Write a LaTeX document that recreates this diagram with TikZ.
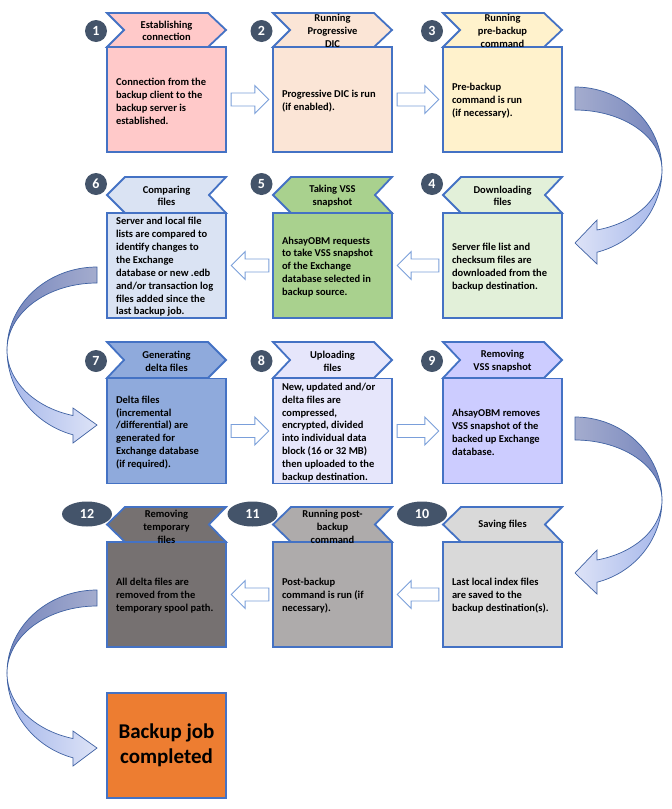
\documentclass[tikz,border=0pt]{standalone}
\usepackage{fontspec}
\setmainfont{Carlito}
\usetikzlibrary{calc,shapes.geometric}
\definecolor{bord}{HTML}{4472C4}
\definecolor{cA}{HTML}{FFC9C9}
\definecolor{cB}{HTML}{FBE5D6}
\definecolor{cC}{HTML}{FFF2CC}
\definecolor{cD}{HTML}{E2F0D9}
\definecolor{cE}{HTML}{A9D18E}
\definecolor{cF}{HTML}{DAE3F3}
\definecolor{cG}{HTML}{8FAADC}
\definecolor{cH}{HTML}{E6E6FB}
\definecolor{cI}{HTML}{CCCCFF}
\definecolor{cJ}{HTML}{D9D9D9}
\definecolor{cK}{HTML}{AEABAB}
\definecolor{cL}{HTML}{767171}
\definecolor{cfin}{HTML}{ED7D31}
\definecolor{numcol}{HTML}{44546A}
\definecolor{barline}{HTML}{7A9FDA}
\definecolor{curline}{HTML}{4062A3}
\definecolor{upLight}{HTML}{A4ACCE}
\definecolor{upDark}{HTML}{7686BD}
\definecolor{loDark}{HTML}{A6B7EA}
\definecolor{loLight}{HTML}{DDE3F7}
\newcommand\hdrR[4]{\filldraw[hdr,fill=#4] ({#1-59.5},#2) -- ({#1+41.5},#2) -- ({#1+59.5},{(#2+#3)/2}) -- ({#1+41.5},#3) -- ({#1-59.5},#3) -- ({#1-42.5},{(#2+#3)/2}) -- cycle;}
\newcommand\hdrL[4]{\filldraw[hdr,fill=#4] ({#1-59.5},{(#2+#3)/2}) -- ({#1-41.5},#2) -- ({#1+59.5},#2) -- ({#1+42.5},{(#2+#3)/2}) -- ({#1+59.5},#3) -- ({#1-41.5},#3) -- cycle;}
\newcommand\barR[2]{\filldraw[barrow] ($(#1.east)+(4,-6.5)$) -- ($(#2.west)+(-17,-6.5)$) -- ($(#2.west)+(-17,-14)$) -- ($(#2.west)+(-3,0)$) -- ($(#2.west)+(-17,14)$) -- ($(#2.west)+(-17,6.5)$) -- ($(#1.east)+(4,6.5)$) -- cycle;}
\newcommand\barL[2]{\filldraw[barrow] ($(#1.west)+(-3,-6.5)$) -- ($(#2.east)+(18,-6.5)$) -- ($(#2.east)+(18,-14)$) -- ($(#2.east)+(4,0)$) -- ($(#2.east)+(18,14)$) -- ($(#2.east)+(18,6.5)$) -- ($(#1.west)+(-3,6.5)$) -- cycle;}
\newcommand\rcurve[1]{%
\shadedraw[curarrow,left color=upLight,right color=upDark]
 plot[domain=90:0,samples=40] ({575+87*cos(\x)},{#1-83*sin(\x)})
 -- plot[domain=0:90,samples=40] ({575+87*cos(\x)},{#1-60*sin(\x)}) -- cycle;
\shadedraw[curarrow,left color=loLight,right color=loDark]
 plot[domain=0:75.4,samples=40] ({575+87*cos(\x)},{#1+85*sin(\x)})
 -- (597,{#1+94}) -- (575,{#1+73}) -- (597,{#1+50})
 -- plot[domain=75.4:0,samples=40] ({575+87*cos(\x)},{#1+62*sin(\x)}) -- cycle;}
\newcommand\lcurve[1]{%
\shadedraw[curarrow,left color=upDark,right color=upLight]
 plot[domain=90:0,samples=40] ({97-90*cos(\x)},{#1-83*sin(\x)})
 -- plot[domain=0:90,samples=40] ({97-90*cos(\x)},{#1-67*sin(\x)}) -- cycle;
\shadedraw[curarrow,left color=loDark,right color=loLight]
 plot[domain=0:74.5,samples=40] ({97-90*cos(\x)},{#1+88*sin(\x)})
 -- (73,{#1+93}) -- (97,{#1+75}) -- (73,{#1+58})
 -- plot[domain=74.5:0,samples=40] ({97-90*cos(\x)},{#1+68*sin(\x)}) -- cycle;}
\begin{document}
\begin{tikzpicture}[x=1pt,y=-1pt,
  hdr/.style={draw=bord,line width=1.8pt,line join=miter},
  body/.style={draw=bord,line width=1.8pt,rectangle,minimum width=119.5pt,minimum height=105pt,inner sep=0pt},
  btext/.style={anchor=west,align=left,inner sep=0pt,font=\fontsize{10.5}{12.9}\selectfont\bfseries},
  htext/.style={align=center,inner sep=0pt,font=\fontsize{10.5}{12.7}\selectfont\bfseries},
  numc/.style={circle,fill=numcol,text=white,minimum size=22pt,inner sep=0pt,font=\fontsize{14}{14}\selectfont\bfseries},
  nume/.style={ellipse,fill=numcol,text=white,minimum width=50pt,minimum height=25pt,inner sep=0pt,font=\fontsize{14}{14}\selectfont\bfseries},
  barrow/.style={draw=barline,fill=white,line width=0.9pt,line join=miter},
  curarrow/.style={draw=curline,line width=0.7pt,line join=miter}]
\useasboundingbox (0,0) rectangle (672,809);
\fill[white] (0,0) rectangle (672,809);
% curved arrows
\rcurve{170}
\lcurve{350}
\rcurve{500}
\lcurve{673}
% row 1
\hdrR{166.5}{13}{47}{cA}
\hdrR{332.5}{13}{47}{cB}
\hdrR{502.5}{13}{47}{cC}
\node[body,fill=cA] (b1) at (166.5,99.5) {};
\node[body,fill=cB] (b2) at (332.5,99.5) {};
\node[body,fill=cC] (b3) at (502.5,99.5) {};
\node[htext] (h1) at (166.5,31) {Establishing\\connection};
\node[htext] (h2) at (332.5,31) {Running\\Progressive\\DIC};
\node[htext] (h3) at (502.5,31) {Running\\pre-backup\\command};
\node[btext] (t1) at ($(b1.west)+(10,1.5)$) {Connection from the\\backup client to the\\backup server is\\established.};
\node[btext] (t2) at ($(b2.west)+(10,1.5)$) {Progressive DIC is run\\(if enabled).};
\node[btext] (t3) at ($(b3.west)+(10,1.5)$) {Pre-backup\\command is run\\(if necessary).};
\node[numc] (n1) at (96,31) {1};
\node[numc] (n2) at (261.5,31) {2};
\node[numc] (n3) at (432,31) {3};
\barR{b1}{b2}
\barR{b2}{b3}
% row 2
\hdrL{166.5}{177}{213}{cF}
\hdrL{332.5}{177}{213}{cE}
\hdrL{502.5}{177}{213}{cD}
\node[body,fill=cF] (b6) at (166.5,265.5) {};
\node[body,fill=cE] (b5) at (332.5,265.5) {};
\node[body,fill=cD] (b4) at (502.5,265.5) {};
\node[htext] (h6) at (166.5,196) {Comparing\\files};
\node[htext] (h5) at (332.5,196) {Taking VSS\\snapshot};
\node[htext] (h4) at (502.5,196) {Downloading\\files};
\node[btext] (t6) at ($(b6.west)+(10,1.5)$) {Server and local file\\lists are compared to\\identify changes to\\the Exchange\\database or new .edb\\and/or transaction log\\files added since the\\last backup job.};
\node[btext] (t5) at ($(b5.west)+(10,1.5)$) {AhsayOBM requests\\to take VSS snapshot\\of the Exchange\\database selected in\\backup source.};
\node[btext] (t4) at ($(b4.west)+(10,1.5)$) {Server file list and\\checksum files are\\downloaded from the\\backup destination.};
\node[numc] (n6) at (96,184) {6};
\node[numc] (n5) at (261.5,184) {5};
\node[numc] (n4) at (432,184) {4};
\barL{b4}{b5}
\barL{b5}{b6}
% row 3
\hdrR{166.5}{342}{378}{cG}
\hdrR{332.5}{342}{378}{cH}
\hdrR{502.5}{342}{378}{cI}
\node[body,fill=cG] (b7) at (166.5,431) {};
\node[body,fill=cH] (b8) at (332.5,431) {};
\node[body,fill=cI] (b9) at (502.5,431) {};
\node[htext] (h7) at (166.5,361) {Generating\\delta files};
\node[htext] (h8) at (332.5,361) {Uploading\\files};
\node[htext] (h9) at (502.5,361) {Removing\\VSS snapshot};
\node[btext] (t7) at ($(b7.west)+(10,1.5)$) {Delta files\\(incremental\\/differential) are\\generated for\\Exchange database\\(if required).};
\node[btext] (t8) at ($(b8.west)+(10,1.5)$) {New, updated and/or\\delta files are\\compressed,\\encrypted, divided\\into individual data\\block (16 or 32 MB)\\then uploaded to the\\backup destination.};
\node[btext] (t9) at ($(b9.west)+(10,1.5)$) {AhsayOBM removes\\VSS snapshot of the\\backed up Exchange\\database.};
\node[numc] (n7) at (96,361) {7};
\node[numc] (n8) at (261.5,361) {8};
\node[numc] (n9) at (432,361) {9};
\barR{b7}{b8}
\barR{b8}{b9}
% row 4
\hdrL{166.5}{507}{542}{cL}
\hdrL{332.5}{507}{542}{cK}
\hdrL{502.5}{507}{542}{cJ}
\node[body,fill=cL] (b12) at (166.5,594.5) {};
\node[body,fill=cK] (b11) at (332.5,594.5) {};
\node[body,fill=cJ] (b10) at (502.5,594.5) {};
\node[htext] (h12) at (166.5,527) {Removing\\temporary\\files};
\node[htext] (h11) at (332.5,527) {Running post-\\backup\\command};
\node[htext] (h10) at (502.5,525) {Saving files};
\node[btext] (t12) at ($(b12.west)+(10,1)$) {All delta files are\\removed from the\\temporary spool path.};
\node[btext] (t11) at ($(b11.west)+(10,1.5)$) {Post-backup\\command is run (if\\necessary).};
\node[btext] (t10) at ($(b10.west)+(10,1.5)$) {Last local index files\\are saved to the\\backup destination(s).};
\node[nume] (n12) at (87,514) {12};
\node[nume] (n11) at (252.5,514) {11};
\node[nume] (n10) at (422,514) {10};
\barL{b10}{b11}
\barL{b11}{b12}
% final
\node[body,fill=cfin] (b13) at (166.5,745.5) {};
\node[align=center,inner sep=0pt,font=\fontsize{21}{25}\selectfont\bfseries] (t13) at (b13) {Backup job\\completed};
\end{tikzpicture}
\end{document}
